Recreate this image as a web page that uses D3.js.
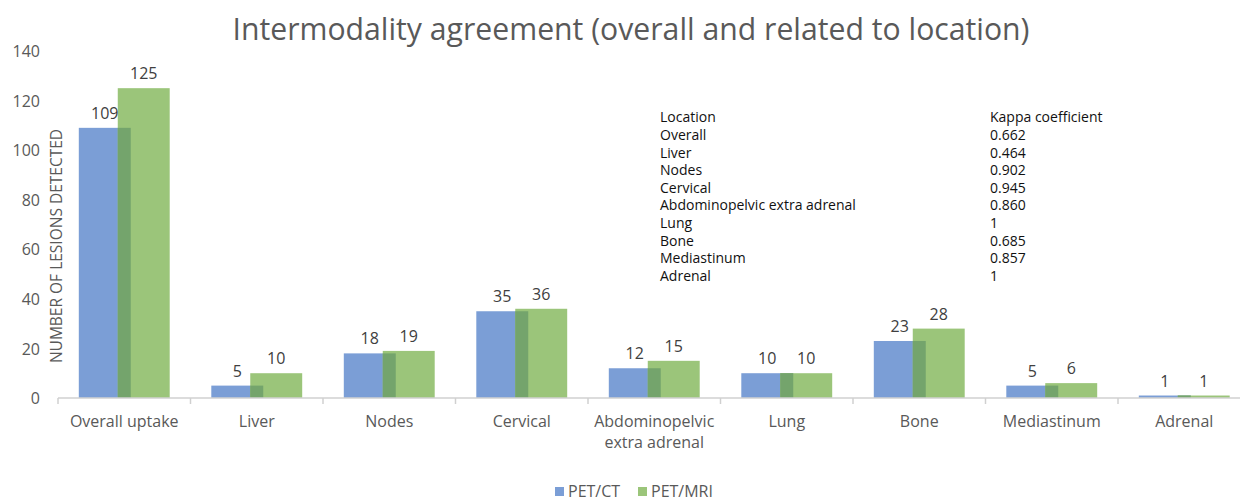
<!DOCTYPE html>
<html>
<head>
<meta charset="utf-8">
<script src="https://cdn.jsdelivr.net/npm/d3@7"></script>
<style>
  html, body { margin: 0; padding: 0; background: #fff; }
  svg { display: block; font-family: "Open Sans", "Noto Sans", sans-serif; }
</style>
</head>
<body>
<svg id="chart" width="1240" height="501"></svg>
<script>
const categories = ["Overall uptake", "Liver", "Nodes", "Cervical", "Abdominopelvic extra adrenal", "Lung", "Bone", "Mediastinum", "Adrenal"];
const categoryLines = [["Overall uptake"], ["Liver"], ["Nodes"], ["Cervical"], ["Abdominopelvic", "extra adrenal"], ["Lung"], ["Bone"], ["Mediastinum"], ["Adrenal"]];
const petCT = [109, 5, 18, 35, 12, 10, 23, 5, 1];
const petMRI = [125, 10, 19, 36, 15, 10, 28, 6, 1];
const seriesNames = ["PET/CT", "PET/MRI"];
const yTicks = [0, 20, 40, 60, 80, 100, 120, 140];
const tableLocations = ["Overall", "Liver", "Nodes", "Cervical", "Abdominopelvic extra adrenal", "Lung", "Bone", "Mediastinum", "Adrenal"];
const tableKappa = ["0.662", "0.464", "0.902", "0.945", "0.860", "1", "0.685", "0.857", "1"];
const titleText = "Intermodality agreement (overall and related to location)";
const yLabel = "NUMBER OF LESIONS DETECTED";

(function () {
const colors = { ct: "#7b9ed6", mri: "#9bc57a", overlap: "#74a46c", text: "#595959", label: "#404040", axis: "#d0d0d0" };

const svg = d3.select("#chart");
const pLeft = 58, pRight = 1250.5, pTop = 51, pBottom = 398;

const x = d3.scaleBand().domain(categories).range([pLeft, pRight]).paddingInner(0).paddingOuter(0);
const y = d3.scaleLinear().domain([0, 140]).range([pBottom, pTop]);
const bw = x.bandwidth() * 0.392;
const overlap = bw * 0.25;
const groupW = 2 * bw - overlap;
const ctX = c => x(c) + (x.bandwidth() - groupW) / 2;
const mriX = c => ctX(c) + bw - overlap;

// Title
svg.append("text").attr("x", 631).attr("y", 40).attr("text-anchor", "middle")
  .attr("font-size", 31).attr("fill", colors.text).attr("font-weight", 400)
  .attr("textLength", 797).attr("lengthAdjust", "spacingAndGlyphs")
  .text(titleText);

// Y axis tick labels (no line)
const yAxis = d3.axisLeft(y).tickValues(yTicks).tickSize(0).tickPadding(0);
const gy = svg.append("g").attr("transform", `translate(40,0)`).call(yAxis);
gy.select(".domain").remove();
gy.selectAll("text").attr("font-size", 16).attr("fill", colors.text).attr("font-family", "Open Sans").attr("dy", "0.35em");

// Y label
svg.append("text").attr("transform", `translate(62,${246}) rotate(-90)`).attr("text-anchor", "middle")
  .attr("font-size", 15.5).attr("fill", colors.text).text(yLabel);

// Bars
const gb = svg.append("g");
gb.selectAll("rect.ct").data(categories).join("rect").attr("class", "ct")
  .attr("x", c => ctX(c)).attr("width", bw)
  .attr("y", (c, i) => y(petCT[i])).attr("height", (c, i) => y(0) - y(petCT[i]))
  .attr("fill", colors.ct);
gb.selectAll("rect.mri").data(categories).join("rect").attr("class", "mri")
  .attr("x", c => mriX(c)).attr("width", bw)
  .attr("y", (c, i) => y(petMRI[i])).attr("height", (c, i) => y(0) - y(petMRI[i]))
  .attr("fill", colors.mri);
gb.selectAll("rect.ov").data(categories).join("rect").attr("class", "ov")
  .attr("x", c => mriX(c)).attr("width", overlap)
  .attr("y", (c, i) => y(Math.min(petCT[i], petMRI[i]))).attr("height", (c, i) => y(0) - y(Math.min(petCT[i], petMRI[i])))
  .attr("fill", colors.overlap);

// X axis
const xAxis = d3.axisBottom(x).tickSize(0).tickFormat("");
const gx = svg.append("g").attr("transform", `translate(0,${pBottom})`).call(xAxis);
gx.select(".domain").attr("stroke", colors.axis).attr("stroke-width", 1.5).attr("d", `M${pLeft},0H${pRight}`);
gx.selectAll(".tick").remove();
const boundaries = categories.map(c => x(c)).concat([pRight]);
gx.selectAll("line.bt").data(boundaries).join("line").attr("class", "bt")
  .attr("x1", d => d).attr("x2", d => d).attr("y1", 0).attr("y2", 6)
  .attr("stroke", colors.axis).attr("stroke-width", 1.5);

// Category labels
categories.forEach((c, i) => {
  const cx = x(c) + x.bandwidth() / 2;
  const t = svg.append("text").attr("text-anchor", "middle").attr("font-size", 16).attr("fill", colors.text)
    .attr("x", cx).attr("y", 427);
  categoryLines[i].forEach((ln, j) => t.append("tspan").attr("x", cx).attr("dy", j === 0 ? 0 : 21).text(ln));
});

// Data labels
const lab = svg.append("g").attr("font-size", 16).attr("fill", colors.label).attr("text-anchor", "middle");
categories.forEach((c, i) => {
  lab.append("text").attr("x", ctX(c) + bw / 2).attr("y", y(petCT[i]) - 9).text(petCT[i]);
  lab.append("text").attr("x", mriX(c) + bw / 2).attr("y", y(petMRI[i]) - 9).text(petMRI[i]);
});

// Table
const tb = svg.append("g").attr("font-size", 14).attr("fill", "#111");
tb.append("text").attr("x", 660).attr("y", 122).text("Location");
tb.append("text").attr("x", 990).attr("y", 122).text("Kappa coefficient");
tableLocations.forEach((l, i) => {
  tb.append("text").attr("x", 660).attr("y", 140 + i * 17.6).text(l);
  tb.append("text").attr("x", 990).attr("y", 140 + i * 17.6).text(tableKappa[i]);
});

// Legend
const lg = svg.append("g").attr("font-size", 16).attr("fill", colors.text);
[[555, colors.ct, seriesNames[0]], [638, colors.mri, seriesNames[1]]].forEach(([lx, col, name]) => {
  lg.append("rect").attr("x", lx).attr("y", 487).attr("width", 9).attr("height", 9).attr("fill", col);
  lg.append("text").attr("x", lx + 13).attr("y", 497).text(name);
});
})();
</script>
</body>
</html>
